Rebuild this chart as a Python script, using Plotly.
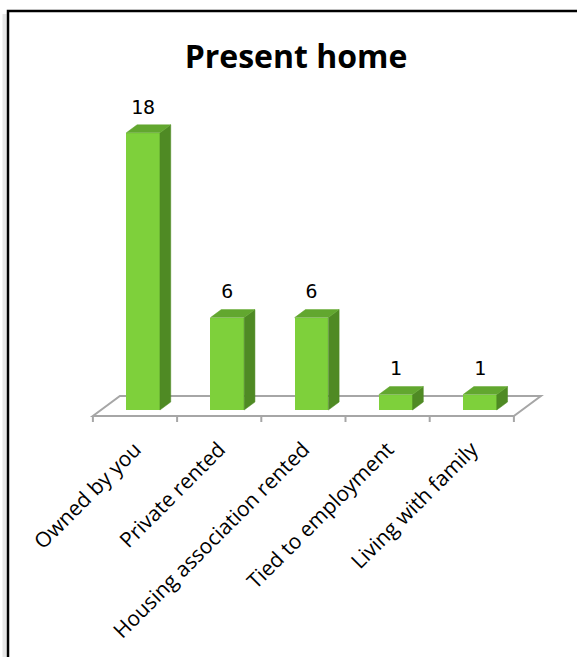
import plotly.graph_objects as go

# ---- data ----
categories = ["Owned by you", "Private rented", "Housing association rented",
              "Tied to employment", "Living with family"]
values = [18, 6, 6, 1, 1]
title_text = "Present home"

# ---- geometry (pixel mapping of the pseudo-3D axes) ----
W, H = 577, 657
L, R, T, B = 50, 5, 90, 232
X0PX, XS = 135.0, 84.2      # pixel of category 0 centre, px per category
Y0PX, YS = 416.0, 15.4      # pixel of value 0 (front of floor), px per unit
DX = 27.0 / XS              # depth offset (category units) for z = 1
DY = 20.0 / YS              # depth offset (value units) for z = 1
Z0, Z1 = 0.3, 0.7           # bar depth span
HALF = 0.2                  # half bar width (category units)

xr = [(L - X0PX) / XS, (W - R - X0PX) / XS]
yr = [(Y0PX - (H - B)) / YS, (Y0PX - T) / YS]

FRONT = "#7ED03B"
SIDE = "#4F8A24"
TOP = "#62A72F"
GRID = "#A6A6A6"


def proj(x, v, z):
    return x + z * DX, v + z * DY


fig = go.Figure()

# front faces as real bars
xs_front = [i + Z0 * DX for i in range(len(values))]
fig.add_trace(go.Bar(
    x=xs_front, y=values, base=[Z0 * DY] * len(values), width=2 * HALF,
    marker=dict(color=FRONT, line=dict(width=0)), hoverinfo="skip",
    showlegend=False))

# side and top faces
for i, v in enumerate(values):
    pts_side = [proj(i + HALF, 0, Z0), proj(i + HALF, 0, Z1),
                proj(i + HALF, v, Z1), proj(i + HALF, v, Z0)]
    pts_top = [proj(i - HALF, v, Z0), proj(i + HALF, v, Z0),
               proj(i + HALF, v, Z1), proj(i - HALF, v, Z1)]
    for pts, col in ((pts_side, SIDE), (pts_top, TOP)):
        fig.add_trace(go.Scatter(
            x=[p[0] for p in pts] + [pts[0][0]],
            y=[p[1] for p in pts] + [pts[0][1]],
            mode="lines", fill="toself", fillcolor=col,
            line=dict(width=0.5, color=col), hoverinfo="skip",
            showlegend=False))

# value labels
fig.add_trace(go.Scatter(
    x=xs_front, y=[v + Z1 * DY + 0.4 for v in values], mode="text",
    text=[str(v) for v in values], textposition="top center",
    textfont=dict(family="DejaVu Sans Mono", size=20, color="#000000"),
    hoverinfo="skip", showlegend=False, cliponaxis=False))

# tick marks at category boundaries
n = len(categories)
tx, ty = [], []
for k in range(n + 1):
    xk = k - 0.5
    tx += [xk, xk, None]
    ty += [0, -6 / YS, None]
fig.add_trace(go.Scatter(x=tx, y=ty, mode="lines",
                         line=dict(color=GRID, width=2), hoverinfo="skip",
                         showlegend=False, cliponaxis=False))

# floor (below traces)
f = [proj(-0.5, 0, 0), proj(n - 0.5, 0, 0), proj(n - 0.5, 0, 1), proj(-0.5, 0, 1)]
path = "M " + " L ".join(f"{p[0]},{p[1]}" for p in f) + " Z"
fig.add_shape(type="path", path=path, xref="x", yref="y", layer="below",
              line=dict(color=GRID, width=2), fillcolor="white")

# chart border (left + top) with faint shadow
pw = W - L - R
ph = H - T - B
def px2paper_x(p):
    return (p - L) / pw
def py2paper_y(p):
    return 1 - (p - T) / ph
fig.add_shape(type="line", xref="paper", yref="paper",
              x0=px2paper_x(4.5), x1=px2paper_x(4.5),
              y0=py2paper_y(700), y1=py2paper_y(14),
              line=dict(color="#E6E6E6", width=4))
fig.add_shape(type="path", xref="paper", yref="paper",
              path=f"M {px2paper_x(8)},{py2paper_y(700)} L {px2paper_x(8)},{py2paper_y(11)} "
                   f"L {px2paper_x(600)},{py2paper_y(11)}",
              line=dict(color="black", width=2.5))

fig.update_layout(
    width=W, height=H,
    margin=dict(l=L, r=R, t=T, b=B),
    paper_bgcolor="white", plot_bgcolor="white",
    title=dict(text=f"<b>{title_text}</b>", x=296 / W, xref="container",
               xanchor="center", y=1 - 57 / H, yref="container",
               yanchor="middle",
               font=dict(family="Open Sans", size=32, color="black")),
    xaxis=dict(range=xr, tickmode="array", tickvals=list(range(n)),
               ticktext=categories, tickangle=-45, showgrid=False,
               zeroline=False, showline=False, ticks="",
               ticklabelstandoff=7,
               tickfont=dict(family="Open Sans", size=21, color="black"),
               fixedrange=True),
    yaxis=dict(range=yr, visible=False, fixedrange=True),
    showlegend=False,
    bargap=0,
)

fig.write_html("out.html", config={"displayModeBar": False},
               post_script="document.body.style.margin='0px';")
